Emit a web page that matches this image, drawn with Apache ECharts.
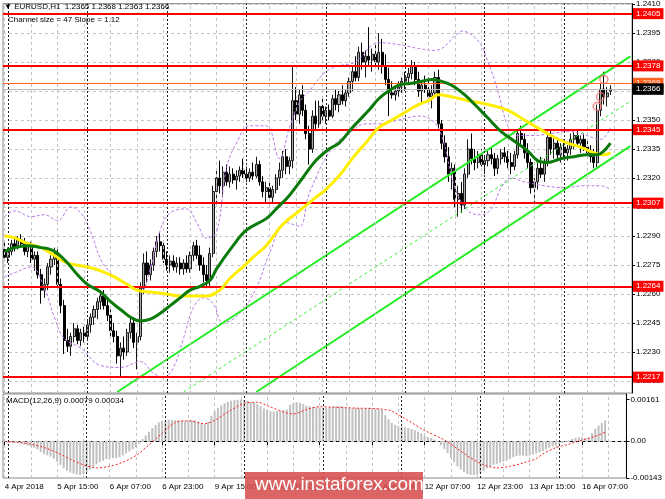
<!DOCTYPE html>
<html><head><meta charset="utf-8">
<script src="https://cdn.jsdelivr.net/npm/echarts@6/dist/echarts.min.js"></script>
<style>html,body{margin:0;padding:0;background:#fff}#c{width:665px;height:499px}</style>
</head><body><div id="c"></div>
<script>
// ---------- DATA ----------
const opens=[1.2283,1.2279,1.2282,1.2286,1.2284,1.2288,1.2286,1.2282,1.2285,1.2278,1.2280,1.2270,1.2262,1.2265,1.2274,1.2278,1.2281,1.2265,1.2254,1.2236,1.2233,1.2238,1.2242,1.2236,1.2240,1.2238,1.2244,1.2248,1.2252,1.2256,1.2259,1.2254,1.2249,1.2241,1.2238,1.2228,1.2232,1.2230,1.2240,1.2245,1.2235,1.2238,1.2263,1.2276,1.2270,1.2275,1.2282,1.2287,1.2285,1.2278,1.2275,1.2277,1.2274,1.2276,1.2273,1.2276,1.2273,1.2280,1.2285,1.2280,1.2275,1.2270,1.2267,1.2281,1.2313,1.2320,1.2316,1.2323,1.2318,1.2322,1.2319,1.2321,1.2324,1.2322,1.2320,1.2323,1.2321,1.2327,1.2318,1.2313,1.2315,1.2310,1.2314,1.2320,1.2324,1.2331,1.2326,1.2329,1.2360,1.2353,1.2363,1.2355,1.2343,1.2335,1.2352,1.2348,1.2357,1.2352,1.2355,1.2352,1.2361,1.2358,1.2363,1.2360,1.2364,1.2370,1.2375,1.2372,1.2385,1.2380,1.2383,1.2381,1.2384,1.2380,1.2385,1.2378,1.2371,1.2364,1.2363,1.2365,1.2367,1.2370,1.2372,1.2374,1.2378,1.2371,1.2365,1.2368,1.2366,1.2362,1.2364,1.2372,1.2348,1.2338,1.2331,1.2322,1.2325,1.2309,1.2312,1.2306,1.2322,1.2335,1.2330,1.2328,1.2332,1.2327,1.2329,1.2332,1.2330,1.2325,1.2330,1.2333,1.2331,1.2328,1.2326,1.2332,1.2343,1.2340,1.2333,1.2328,1.2315,1.2318,1.2325,1.2322,1.2328,1.2341,1.2335,1.2338,1.2332,1.2336,1.2333,1.2335,1.2340,1.2342,1.2338,1.2340,1.2336,1.2333,1.2331,1.2328,1.2355,1.2366,1.2362,1.2365];
const highs=[1.2287,1.2284,1.2288,1.2289,1.2290,1.2291,1.2289,1.2287,1.2287,1.2282,1.2282,1.2273,1.2268,1.2276,1.2280,1.2284,1.2283,1.2268,1.2257,1.2242,1.2240,1.2245,1.2244,1.2242,1.2243,1.2246,1.2250,1.2254,1.2258,1.2262,1.2262,1.2258,1.2252,1.2245,1.2241,1.2235,1.2238,1.2242,1.2248,1.2248,1.2240,1.2266,1.2281,1.2282,1.2278,1.2284,1.2290,1.2292,1.2287,1.2282,1.2280,1.2280,1.2279,1.2279,1.2278,1.2280,1.2282,1.2287,1.2288,1.2285,1.2279,1.2275,1.2284,1.2316,1.2325,1.2329,1.2326,1.2327,1.2326,1.2325,1.2324,1.2326,1.2330,1.2326,1.2325,1.2328,1.2331,1.2329,1.2321,1.2318,1.2319,1.2316,1.2322,1.2328,1.2334,1.2335,1.2331,1.2378,1.2367,1.2366,1.2368,1.2358,1.2347,1.2355,1.2360,1.2360,1.2361,1.2357,1.2358,1.2363,1.2366,1.2365,1.2368,1.2366,1.2372,1.2378,1.2383,1.2388,1.2390,1.2386,1.2398,1.2387,1.2389,1.2395,1.2392,1.2384,1.2377,1.2370,1.2368,1.2370,1.2372,1.2375,1.2377,1.2381,1.2380,1.2375,1.2370,1.2373,1.2372,1.2368,1.2375,1.2376,1.2350,1.2342,1.2336,1.2328,1.2327,1.2316,1.2318,1.2325,1.2340,1.2343,1.2335,1.2334,1.2335,1.2331,1.2334,1.2336,1.2333,1.2332,1.2335,1.2336,1.2334,1.2333,1.2334,1.2345,1.2347,1.2343,1.2338,1.2330,1.2320,1.2328,1.2331,1.2330,1.2344,1.2345,1.2342,1.2341,1.2338,1.2340,1.2337,1.2343,1.2344,1.2345,1.2342,1.2343,1.2339,1.2337,1.2335,1.2358,1.2369,1.2375,1.2367,1.2368];
const lows=[1.2277,1.2276,1.2280,1.2282,1.2283,1.2284,1.2280,1.2279,1.2276,1.2272,1.2268,1.2255,1.2258,1.2262,1.2270,1.2275,1.2262,1.2250,1.2229,1.2230,1.2228,1.2235,1.2234,1.2233,1.2235,1.2236,1.2240,1.2244,1.2247,1.2252,1.2252,1.2246,1.2238,1.2235,1.2224,1.2217,1.2226,1.2228,1.2237,1.2232,1.2221,1.2236,1.2260,1.2266,1.2267,1.2272,1.2279,1.2282,1.2276,1.2272,1.2271,1.2272,1.2271,1.2270,1.2270,1.2271,1.2271,1.2277,1.2278,1.2272,1.2266,1.2263,1.2263,1.2279,1.2305,1.2312,1.2310,1.2316,1.2315,1.2317,1.2314,1.2318,1.2320,1.2318,1.2318,1.2319,1.2320,1.2316,1.2310,1.2307,1.2308,1.2307,1.2312,1.2316,1.2320,1.2322,1.2322,1.2325,1.2350,1.2348,1.2352,1.2340,1.2327,1.2333,1.2345,1.2346,1.2350,1.2348,1.2350,1.2351,1.2355,1.2354,1.2358,1.2357,1.2362,1.2365,1.2370,1.2370,1.2376,1.2372,1.2378,1.2375,1.2378,1.2376,1.2374,1.2368,1.2352,1.2361,1.2360,1.2362,1.2364,1.2365,1.2368,1.2371,1.2368,1.2362,1.2358,1.2364,1.2360,1.2356,1.2362,1.2345,1.2335,1.2328,1.2318,1.2314,1.2305,1.2300,1.2302,1.2304,1.2320,1.2327,1.2324,1.2325,1.2326,1.2322,1.2326,1.2327,1.2321,1.2322,1.2327,1.2328,1.2325,1.2322,1.2324,1.2330,1.2337,1.2330,1.2325,1.2312,1.2307,1.2314,1.2320,1.2318,1.2326,1.2332,1.2330,1.2329,1.2328,1.2330,1.2329,1.2332,1.2335,1.2336,1.2333,1.2334,1.2330,1.2328,1.2325,1.2325,1.2352,1.2358,1.2357,1.2363];
const closes=[1.2279,1.2282,1.2286,1.2284,1.2288,1.2286,1.2282,1.2285,1.2278,1.2280,1.2270,1.2262,1.2265,1.2274,1.2278,1.2281,1.2265,1.2254,1.2236,1.2233,1.2238,1.2242,1.2236,1.2240,1.2238,1.2244,1.2248,1.2252,1.2256,1.2259,1.2254,1.2249,1.2241,1.2238,1.2228,1.2232,1.2230,1.2240,1.2245,1.2235,1.2238,1.2263,1.2276,1.2270,1.2275,1.2282,1.2287,1.2285,1.2278,1.2275,1.2277,1.2274,1.2276,1.2273,1.2276,1.2273,1.2280,1.2285,1.2280,1.2275,1.2270,1.2267,1.2281,1.2313,1.2320,1.2316,1.2323,1.2318,1.2322,1.2319,1.2321,1.2324,1.2322,1.2320,1.2323,1.2321,1.2327,1.2318,1.2313,1.2315,1.2310,1.2314,1.2320,1.2324,1.2331,1.2326,1.2329,1.2360,1.2353,1.2363,1.2355,1.2343,1.2335,1.2352,1.2348,1.2357,1.2352,1.2355,1.2352,1.2361,1.2358,1.2363,1.2360,1.2364,1.2370,1.2375,1.2372,1.2385,1.2380,1.2383,1.2381,1.2384,1.2380,1.2385,1.2378,1.2371,1.2364,1.2363,1.2365,1.2367,1.2370,1.2372,1.2374,1.2378,1.2371,1.2365,1.2368,1.2366,1.2362,1.2364,1.2372,1.2348,1.2338,1.2331,1.2322,1.2325,1.2309,1.2312,1.2306,1.2322,1.2335,1.2330,1.2328,1.2332,1.2327,1.2329,1.2332,1.2330,1.2325,1.2330,1.2333,1.2331,1.2328,1.2326,1.2332,1.2343,1.2340,1.2333,1.2328,1.2315,1.2318,1.2325,1.2322,1.2328,1.2341,1.2335,1.2338,1.2332,1.2336,1.2333,1.2335,1.2340,1.2342,1.2338,1.2340,1.2336,1.2333,1.2331,1.2328,1.2355,1.2366,1.2362,1.2364,1.2366];

const maGreen=[[0,1.2282],[3,1.2284],[7,1.2285],[11,1.2284],[14,1.2283],[16,1.2281],[19,1.2276],[22,1.2270],[25,1.2265],[29,1.2261],[32,1.2256],[35,1.2252],[38,1.2248],[41,1.2246],[44,1.2247],[47,1.2250],[50,1.2254],[53,1.2258],[56,1.2262],[59,1.2264],[62,1.2267],[64,1.2273],[69,1.2285],[73,1.2293],[79,1.2299],[82,1.2304],[86,1.2311],[90,1.2320],[94,1.2329],[98,1.2335],[101,1.2338],[105,1.2346],[110,1.2355],[113,1.2361],[116,1.2365],[119,1.2368],[123,1.2369],[126,1.2370],[129,1.2371],[132,1.2370],[135,1.2368],[139,1.2363],[142,1.2358],[146,1.2351],[150,1.2344],[154,1.2339],[158,1.2334],[161,1.2329],[164,1.2328],[168,1.2330],[172,1.2331],[176,1.2332],[179,1.2332],[181,1.2334],[183,1.2338]];
const maYellow=[[0,1.2290],[3,1.2289],[7,1.2286],[11,1.2284],[15,1.2280],[19,1.2276],[25,1.2274],[29,1.2272],[33,1.2269],[37,1.2265],[40,1.2262],[44,1.2261],[49,1.2260],[53,1.2259],[57,1.2259],[61,1.2259],[65,1.2262],[68,1.2268],[72,1.2274],[75,1.2279],[79,1.2285],[84,1.2296],[89,1.2303],[94,1.2310],[97,1.2314],[101,1.2321],[105,1.2330],[109,1.2338],[113,1.2346],[117,1.2350],[121,1.2354],[125,1.2358],[128,1.2360],[131,1.2363],[135,1.2362],[140,1.2360],[146,1.2358],[152,1.2355],[157,1.2350],[161,1.2346],[165,1.2342],[170,1.2338],[174,1.2336],[178,1.2333],[181,1.2332],[183,1.2333]];
const bbUpper=[[0,1.2300],[3,1.2303],[8,1.2300],[12,1.2301],[16,1.2298],[20,1.2305],[23,1.2302],[26,1.2292],[29,1.2278],[32,1.2271],[35,1.2267],[39,1.2263],[41,1.2261],[44,1.2273],[47,1.2293],[50,1.2302],[55,1.2304],[58,1.2297],[61,1.2289],[64,1.2292],[67,1.2325],[70,1.2338],[74,1.2347],[79,1.2347],[83,1.2330],[86,1.2346],[89,1.2359],[92,1.2365],[97,1.2375],[101,1.2378],[106,1.2380],[113,1.2390],[119,1.2389],[125,1.2387],[130,1.2386],[137,1.2395],[138,1.2396],[143,1.2391],[146,1.2380],[149,1.2365],[152,1.2347],[155,1.2342],[160,1.2342],[165,1.2343],[170,1.2344],[174,1.2343],[180,1.2340],[183,1.2346]];
const bbLower=[[0,1.2269],[3,1.2271],[8,1.2274],[12,1.2263],[15,1.2248],[18,1.2237],[23,1.2232],[29,1.2223],[35,1.2222],[41,1.2225],[45,1.2219],[48,1.2217],[51,1.2222],[54,1.2237],[57,1.2253],[60,1.2258],[63,1.2255],[66,1.2245],[71,1.2250],[76,1.2263],[80,1.2281],[85,1.2297],[89,1.2295],[92,1.2312],[99,1.2336],[104,1.2343],[109,1.2348],[113,1.2348],[119,1.2350],[125,1.2352],[129,1.2350],[132,1.2342],[136,1.2315],[140,1.2303],[144,1.2301],[147,1.2304],[150,1.2315],[153,1.2320],[157,1.2318],[163,1.2316],[169,1.2315],[175,1.2316],[180,1.2316],[183,1.2314]];
const channelUpper=[[34,1.22093],[189,1.23829]];
const channelMiddle=[[54,1.22093],[189,1.23597]];
const channelLower=[[76,1.22093],[189,1.23365]];
const redLevels=[1.2405,1.2378,1.2345,1.2307,1.2264,1.2217];
const orangeLevel=1.2369;
const bidLevel=1.2366;
const markers=[[179,1.2357],[180,1.2362],[181,1.2371]];
const priceTicks=[1.2410,1.2395,1.2380,1.2365,1.2350,1.2335,1.2320,1.2305,1.2290,1.2275,1.2260,1.2245,1.2230,1.2215];
const macdHist=[-0.00004,-0.00006,-0.00005,-0.00007,-0.00008,-0.00010,-0.00014,-0.00018,-0.00022,-0.00026,
-0.00032,-0.00042,-0.00050,-0.00055,-0.00060,-0.00068,-0.00080,-0.00092,-0.00105,-0.00115,
-0.00122,-0.00126,-0.00130,-0.00132,-0.00128,-0.00120,-0.00110,-0.00100,-0.00090,-0.00082,
-0.00076,-0.00070,-0.00068,-0.00066,-0.00066,-0.00062,-0.00056,-0.00048,-0.00040,-0.00032,
-0.00024,-0.00010,0.00008,0.00022,0.00036,0.00050,0.00062,0.00072,0.00078,0.00080,
0.00082,0.00082,0.00081,0.00080,0.00079,0.00078,0.00080,0.00082,0.00080,0.00075,
0.00070,0.00066,0.00074,0.00098,0.00115,0.00128,0.00138,0.00146,0.00152,0.00156,
0.00158,0.00160,0.00160,0.00158,0.00156,0.00152,0.00148,0.00142,0.00134,0.00126,
0.00120,0.00116,0.00115,0.00116,0.00118,0.00120,0.00122,0.00140,0.00148,0.00150,
0.00148,0.00143,0.00136,0.00134,0.00132,0.00131,0.00130,0.00128,0.00127,0.00130,
0.00133,0.00135,0.00135,0.00133,0.00130,0.00128,0.00127,0.00128,0.00127,0.00126,
0.00127,0.00128,0.00127,0.00126,0.00125,0.00120,0.00100,0.00085,0.00070,0.00062,
0.00058,0.00056,0.00054,0.00050,0.00046,0.00042,0.00036,0.00030,0.00022,0.00016,
0.00012,0.00006,-0.00004,-0.00016,-0.00030,-0.00046,-0.00064,-0.00082,-0.00098,-0.00110,
-0.00120,-0.00127,-0.00131,-0.00132,-0.00130,-0.00124,-0.00116,-0.00106,-0.00098,-0.00092,
-0.00088,-0.00084,-0.00080,-0.00076,-0.00070,-0.00062,-0.00058,-0.00056,-0.00056,-0.00058,
-0.00056,-0.00052,-0.00048,-0.00044,-0.00038,-0.00032,-0.00026,-0.00020,-0.00016,-0.00012,
-0.00008,-0.00004,0.00002,0.00008,0.00012,0.00014,0.00014,0.00012,0.00012,0.00030,
0.00048,0.00060,0.00070,0.00079];
const macdSignal=[[0,-0.00002],[4,-0.00005],[8,-0.00012],[12,-0.00025],[16,-0.00045],[20,-0.00070],[24,-0.00092],[28,-0.00104],[32,-0.00098],[36,-0.00082],[40,-0.00056],[44,-0.00015],[48,0.00030],[52,0.00072],[56,0.00078],[61,0.00067],[64,0.00080],[68,0.00112],[73,0.00146],[77,0.00150],[81,0.00132],[85,0.00112],[88,0.00105],[92,0.00122],[96,0.00133],[100,0.00131],[104,0.00129],[108,0.00127],[112,0.00126],[116,0.00122],[118,0.00116],[123,0.00079],[128,0.00041],[134,0.00004],[138,-0.00030],[142,-0.00065],[146,-0.00092],[150,-0.00104],[154,-0.00098],[158,-0.00085],[162,-0.00068],[164,-0.00050],[168,-0.00026],[172,-0.00012],[176,0.00004],[180,0.00018],[183,0.00034]];
const macdTicks=[0.00161,0,-0.00143];
const macdTickLabels=['0.00161','0.00','-0.00143'];
const xTickLabels=['4 Apr 2018','5 Apr 15:00','6 Apr 07:00','6 Apr 23:00','9 Apr 15:00','10 Apr 07:00','10 Apr 23:00','11 Apr 15:00','12 Apr 07:00','12 Apr 23:00','13 Apr 15:00','16 Apr 07:00'];
const dayStarts=[1,25,49,73,97,121,145,169];

// hourly categories (weekends skipped), plus empty space on the right
const categories=[];
(function(){const mon=['Jan','Feb','Mar','Apr'];let t=Date.UTC(2018,3,4,23);
while(categories.length<190){const d=new Date(t);const wd=d.getUTCDay();
if(wd!==0&&wd!==6){categories.push(d.getUTCDate()+' '+mon[d.getUTCMonth()]+' '+String(d.getUTCHours()).padStart(2,'0')+':00');}
t+=3600000;}})();

// ---------- CHART ----------
const FONT='Liberation Sans, Arial, sans-serif';
const candleData=opens.map((o,i)=>[o,closes[i],lows[i],highs[i]]);
function vLines(){const a=[];for(let i=0;i<categories.length;i+=8)a.push({xAxis:i,lineStyle:{color:'#c4c4c4',type:[3,3],width:1},label:{show:false}});
dayStarts.forEach(i=>a.push({xAxis:i,lineStyle:{color:'#222',type:[2,2],width:1},label:{show:false}}));return a;}
function lvl(v,lineColor,w,bg,fg){return {yAxis:v,lineStyle:{color:lineColor,width:w,type:'solid'},
label:{show:true,position:'end',distance:1,formatter:v.toFixed(4),backgroundColor:bg,color:fg,padding:[2,3,1,3],fontSize:8,fontFamily:FONT}};}
const levelData=[lvl(orangeLevel,'#ff6420',1,'#ff6420','#ffe8d8'),lvl(bidLevel,'#b8b8b8',1,'#000000','#ffffff')];
redLevels.forEach(v=>levelData.push(lvl(v,'#ff0000',2,'#ff0000','#ffffff')));
// bid label on top of the orange one
levelData.push(lvl(bidLevel,'rgba(0,0,0,0)',0,'#000000','#ffffff'));

const chart=echarts.init(document.getElementById('c'),null,{renderer:'canvas'});
chart.setOption({
  animation:false,
  backgroundColor:'#ffffff',
  grid:[
    {left:3,right:33,top:2,height:391,show:true,borderColor:'#8a8a8a',borderWidth:1},
    {left:3,right:33,top:394,height:84,show:true,borderColor:'#8a8a8a',borderWidth:1}
  ],
  xAxis:[
    {type:'category',gridIndex:0,data:categories,boundaryGap:true,axisLine:{show:false},axisTick:{show:false},axisLabel:{show:false},splitLine:{show:false}},
    {type:'category',gridIndex:1,data:categories,boundaryGap:true,axisLine:{show:true,lineStyle:{color:'#000'}},
     axisTick:{show:true,alignWithLabel:true,length:4,interval:(i)=>i%16===0&&i<=176,lineStyle:{color:'#000'}},
     axisLabel:{show:true,interval:(i)=>i%16===0&&i<=176,formatter:(v,i)=>xTickLabels[i/16],align:'left',margin:5,fontSize:8,color:'#000',fontFamily:FONT},
     splitLine:{show:false}}
  ],
  yAxis:[
    {type:'value',gridIndex:0,position:'right',min:1.22088,max:1.24102,
     axisLine:{show:true,lineStyle:{color:'#000'}},
     axisTick:{show:true,length:3,customValues:priceTicks,lineStyle:{color:'#000'}},
     axisLabel:{show:true,customValues:priceTicks,formatter:(v)=>v.toFixed(4),fontSize:8,color:'#000',margin:4,fontFamily:FONT},
     splitLine:{show:true,lineStyle:{color:'#c4c4c4',type:[3,3]}}},
    {type:'value',gridIndex:1,position:'right',min:-0.00143,max:0.00182,
     axisLine:{show:true,lineStyle:{color:'#000'}},
     axisTick:{show:true,length:3,customValues:macdTicks,lineStyle:{color:'#000'}},
     axisLabel:{show:true,customValues:macdTicks,formatter:(v)=>{let k=0,b=1e9;macdTicks.forEach((t,j)=>{if(Math.abs(t-v)<b){b=Math.abs(t-v);k=j;}});return macdTickLabels[k];},fontSize:8,color:'#000',margin:4,fontFamily:FONT},
     splitLine:{show:false}}
  ],
  series:[
    {type:'candlestick',xAxisIndex:0,yAxisIndex:0,data:candleData,barWidth:2.6,z:2,
     itemStyle:{color:'#a8a8a8',color0:'#000000',borderColor:'#1a1a1a',borderColor0:'#000000',borderWidth:1},
     markLine:{silent:true,symbol:['none','none'],animation:false,precision:4,data:vLines()}},
    {type:'line',xAxisIndex:0,yAxisIndex:0,data:bbUpper,smooth:0.4,showSymbol:false,lineStyle:{color:'#b878e8',width:1,type:[3,2]},z:3},
    {type:'line',xAxisIndex:0,yAxisIndex:0,data:bbLower,smooth:0.4,showSymbol:false,lineStyle:{color:'#b878e8',width:1,type:[3,2]},z:3},
    {type:'line',xAxisIndex:0,yAxisIndex:0,data:channelMiddle,showSymbol:false,lineStyle:{color:'#33ee33',width:1,type:[3,3]},z:4},
    {type:'line',xAxisIndex:0,yAxisIndex:0,data:channelUpper,showSymbol:false,lineStyle:{color:'#22ee22',width:2},z:4},
    {type:'line',xAxisIndex:0,yAxisIndex:0,data:channelLower,showSymbol:false,lineStyle:{color:'#22ee22',width:2},z:4},
    {type:'line',xAxisIndex:0,yAxisIndex:0,data:maYellow,smooth:0.4,showSymbol:false,lineStyle:{color:'#ffee00',width:3},z:5},
    {type:'line',xAxisIndex:0,yAxisIndex:0,data:maGreen,smooth:0.4,showSymbol:false,lineStyle:{color:'#0a7a0a',width:3},z:6},
    {type:'scatter',xAxisIndex:0,yAxisIndex:0,data:markers,symbol:'circle',symbolSize:8,itemStyle:{color:'rgba(0,0,0,0)',borderColor:'#f07070',borderWidth:1.5},z:7,
     markLine:{silent:true,symbol:['none','none'],animation:false,precision:4,data:levelData}},
    {type:'bar',xAxisIndex:1,yAxisIndex:1,data:macdHist,barWidth:2,itemStyle:{color:'#c0c0c0'},
     markLine:{silent:true,symbol:['none','none'],animation:false,
       data:vLines().concat([{yAxis:0,lineStyle:{color:'#c4c4c4',type:[3,3],width:1},label:{show:false}}])}},
    {type:'line',xAxisIndex:1,yAxisIndex:1,data:macdSignal,smooth:0.3,showSymbol:false,lineStyle:{color:'#ff2020',width:1,type:[2,2]},z:5}
  ],
  graphic:[
    {type:'text',left:4,top:3,style:{text:'▼ EURUSD,H1  1.2365 1.2368 1.2363 1.2366',fontSize:8,fill:'#000',fontFamily:FONT},z:100},
    {type:'text',left:8,top:16,style:{text:'Channel size = 47 Slope = 1.12',fontSize:8,fill:'#000',fontFamily:FONT},z:100},
    {type:'text',left:6,top:397,style:{text:'MACD(12,26,9) 0.00079 0.00034',fontSize:8,fill:'#000',fontFamily:FONT},z:100},
    {type:'rect',left:245,top:472,shape:{width:178,height:27},style:{fill:'rgba(214,78,78,0.88)'},z:100},
    {type:'text',left:255,top:475,style:{text:'www.instaforex.com',fontSize:19,fill:'#ffffff',fontFamily:'Arial, Liberation Sans, sans-serif'},z:101}
  ]
});
</script></body></html>
